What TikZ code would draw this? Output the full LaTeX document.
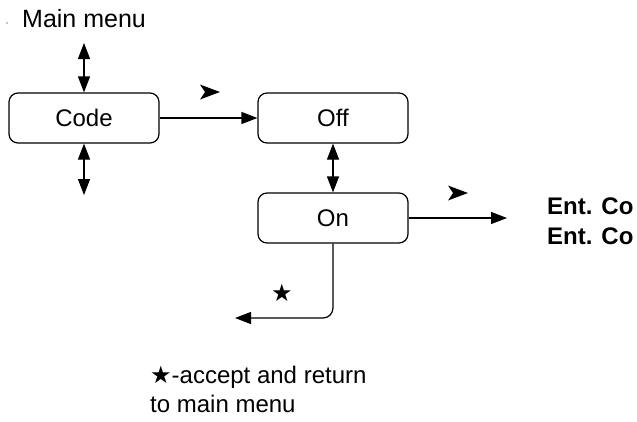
\documentclass[tikz,border=0pt]{standalone}
\usepackage{fontspec}
\setmainfont{Liberation Sans}
\newfontfamily\symfont{DejaVu Sans}
\usetikzlibrary{arrows.meta}
\tikzset{
  menubox/.style={draw, line width=1.2pt, rounded corners=9pt, minimum width=150pt,
    minimum height=50pt, inner sep=0pt, font=\fontsize{24}{28}\selectfont},
  txt/.style={inner sep=0pt, anchor=base west, font=\fontsize{24}{28}\selectfont},
  boldtxt/.style={txt, font=\fontsize{24}{28}\selectfont\bfseries},
  arr/.style={line width=1.2pt, -{Triangle[length=16pt,width=12pt]}},
  dbl/.style={line width=1.2pt, {Triangle[length=16pt,width=12pt]}-{Triangle[length=16pt,width=12pt]}},
  pics/dartmark/.style={code={\fill (10,0) -- (-10,-7.5) -- (-5,0) -- (-10,7.5) -- cycle;}},
}
\begin{document}
\begin{tikzpicture}[x=1pt,y=-1pt]
\useasboundingbox (0,0) rectangle (637,421);

% menu entries
\node[menubox] (code) at (84,118) {Code};
\node[menubox] (off) at (333,118) {Off};
\node[menubox] (on) at (333,218) {On};

% labels
\fill (7,23) circle (0.7);
\node[txt, font=\fontsize{25}{28}\selectfont] (mainmenu) at (22,27) {Main menu};
\node[boldtxt] (ent1) at (547,214) {Ent. Co};
\node[boldtxt] (ent2) at (547,244) {Ent. Co};
\node[txt] (note1) at (150,383) {{\symfont\fontsize{24}{28}\selectfont ★}-accept and return};
\node[txt] (note2) at (150,412) {to main menu};
\node[inner sep=0pt, font=\symfont\fontsize{24}{28}\selectfont] (star) at (282,293) {★};

% free ends of connectors
\coordinate (uptop) at (84,43);
\coordinate (downend) at (84,195);
\coordinate (entend) at (507,218);
\coordinate (retend) at (235,318);

% connectors
\draw[dbl] (uptop) -- (code.north);
\draw[dbl] (code.south) -- (downend);
\draw[arr] (code.east) -- (off.west);
\draw[dbl] (off.south) -- (on.north);
\draw[arr] (on.east) -- (entend);
\draw[arr, rounded corners=10pt] (on.south) |- (retend);

% right-pointing key marks
\pic at (210,92) {dartmark};
\pic at (458,193) {dartmark};
\end{tikzpicture}
\end{document}
